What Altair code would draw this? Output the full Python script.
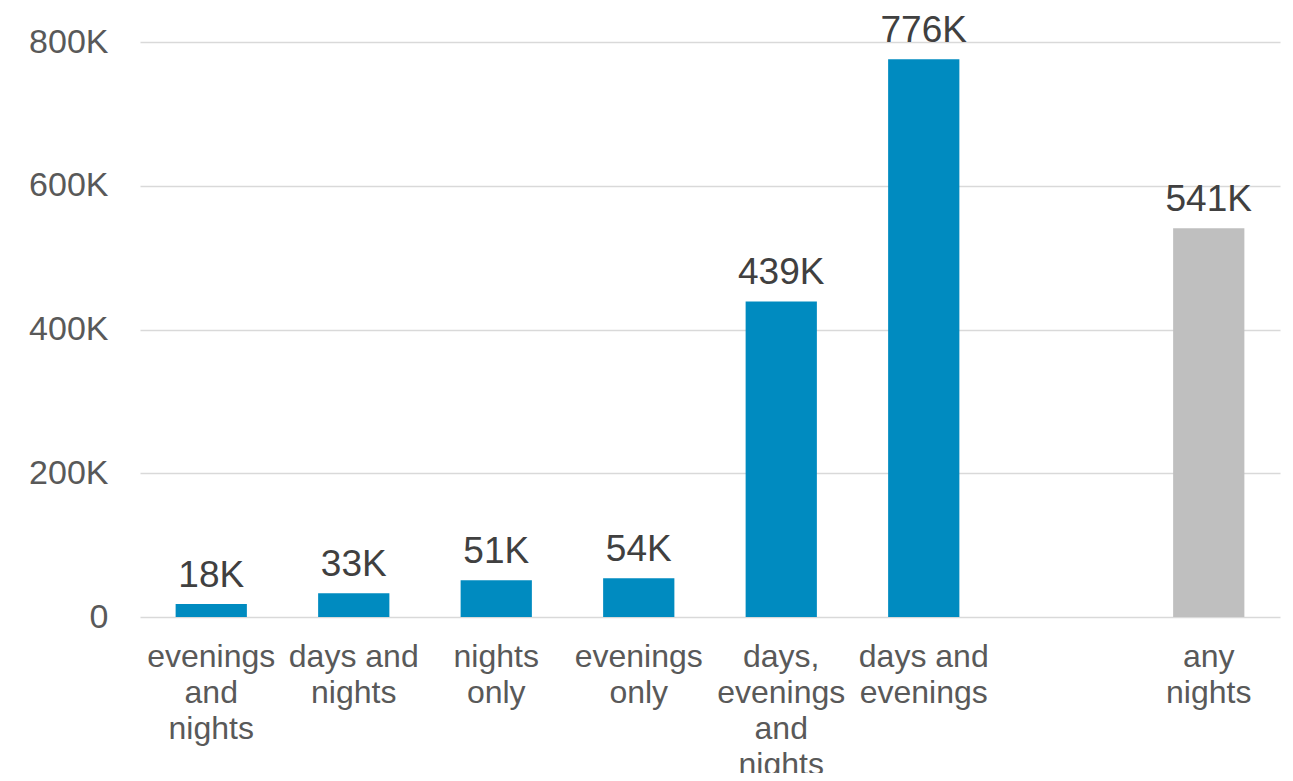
import altair as alt
import pandas as pd

categories = ["evenings|and|nights", "days and|nights", "nights|only", "evenings|only",
              "days,|evenings|and|nights", "days and|evenings", "any|nights"]
values = [18000, 33000, 51000, 54000, 439000, 776000, 541000]
groups = ["blue", "blue", "blue", "blue", "blue", "blue", "gray"]
domain = categories[:6] + ["_gap_"] + categories[6:]

df = pd.DataFrame({"cat": categories, "value": values, "group": groups})
df["label"] = (df["value"] // 1000).astype(str) + "K"

FONT = "Liberation Sans"

x = alt.X("cat:N", scale=alt.Scale(domain=domain, paddingInner=0.5, paddingOuter=0.25),
          sort=domain,
          axis=alt.Axis(title=None, labelAngle=0, domain=False, ticks=False,
                        labelExpr="datum.label == '_gap_' ? '' : split(datum.label, '|')",
                        labelFont=FONT, labelFontSize=32, labelColor="#595959",
                        labelLineHeight=36, labelPadding=24, labelBaseline="top"))
y = alt.Y("value:Q", scale=alt.Scale(domain=[0, 800000], nice=False),
          axis=alt.Axis(title=None, values=[0, 200000, 400000, 600000, 800000],
                        labelExpr="datum.value == 0 ? '0' : (datum.value / 1000) + 'K'",
                        domain=False, ticks=False, labelFont=FONT, labelFontSize=34,
                        labelColor="#595959", labelPadding=32,
                        gridColor="#D9D9D9", gridWidth=1.5))

bars = alt.Chart(df).mark_bar().encode(
    x=x, y=y,
    color=alt.Color("group:N", scale=alt.Scale(domain=["blue", "gray"], range=["#008BC0", "#BFBFBF"]),
                    legend=None))
text = alt.Chart(df).mark_text(font=FONT, fontSize=37, color="#404040", baseline="alphabetic", dy=-17).encode(
    x=alt.X("cat:N", sort=domain), y="value:Q", text="label:N")

chart = (bars + text).properties(
    width=1140, height=575,
    autosize=alt.AutoSizeParams(type="none"),
    padding={"left": 132, "top": 34, "right": 5, "bottom": 156},
    background="white",
).configure_view(stroke=None)

chart.save("out.html", embed_options={"renderer": "svg", "actions": False})
